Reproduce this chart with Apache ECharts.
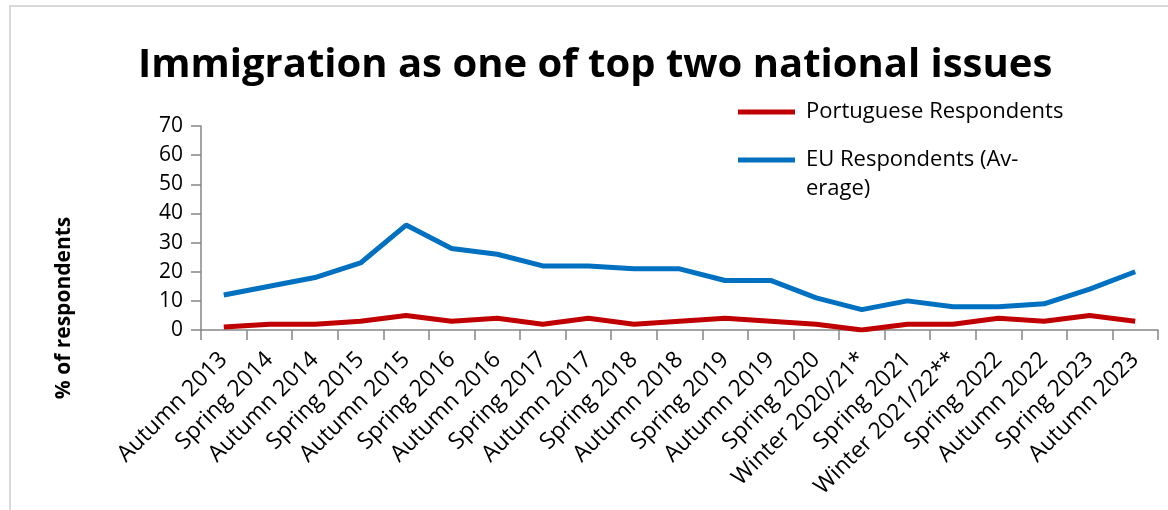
<!DOCTYPE html>
<html>
<head>
<meta charset="utf-8">
<script src="https://cdn.jsdelivr.net/npm/echarts@6/dist/echarts.min.js"></script>
<style>
  html, body { margin: 0; padding: 0; background: #ffffff; }
  #chart { width: 1168px; height: 510px; }
</style>
</head>
<body>
<div id="chart"></div>
<script>
// Survey waves (Eurobarometer-style)
const waves = [
  'Autumn 2013', 'Spring 2014', 'Autumn 2014', 'Spring 2015', 'Autumn 2015',
  'Spring 2016', 'Autumn 2016', 'Spring 2017', 'Autumn 2017', 'Spring 2018',
  'Autumn 2018', 'Spring 2019', 'Autumn 2019', 'Spring 2020', 'Winter 2020/21*',
  'Spring 2021', 'Winter 2021/22**', 'Spring 2022', 'Autumn 2022', 'Spring 2023',
  'Autumn 2023'
];

// Share of respondents naming immigration among the top two national issues (%)
const portugueseRespondents = [1, 2, 2, 3, 5, 3, 4, 2, 4, 2, 3, 4, 3, 2, 0, 2, 2, 4, 3, 5, 3];
const euRespondents = [12, 15, 18, 23, 36, 28, 26, 22, 22, 21, 21, 17, 17, 11, 7, 10, 8, 8, 9, 14, 20];

const seriesNames = ['Portuguese Respondents', 'EU Respondents (Average)'];
// Legend text as wrapped in the legend box; the leading blank line keeps the
// swatch level with the first text line of the wrapped entry.
const legendLabels = ['Portuguese Respondents', '\nEU Respondents (Av-\nerage)'];
const yTicks = { min: 0, max: 70, step: 10 };

const FONT = 'Open Sans';
const AXIS_GREY = '#868686';

const legendBase = {
  orient: 'vertical',
  left: 738,
  padding: 0,
  itemWidth: 57,
  itemHeight: 5,
  icon: 'rect',
  textStyle: {
    fontFamily: FONT,
    fontSize: 22,
    color: '#000000',
    lineHeight: 29,
    padding: [0, 0, 0, 6]
  },
  formatter: function (name) {
    return legendLabels[seriesNames.indexOf(name)];
  }
};

const chart = echarts.init(document.getElementById('chart'), null, { renderer: 'canvas' });

chart.setOption({
  backgroundColor: '#ffffff',
  animation: false,
  title: {
    text: 'Immigration as one of top two national issues',
    left: 133,
    top: 41,
    textStyle: { fontFamily: FONT, fontWeight: 'bold', fontSize: 40, color: '#000000' }
  },
  graphic: [
    {
      type: 'rect',
      shape: { x: 10, y: 6, width: 1400, height: 800 },
      style: { fill: 'none', stroke: '#d9d9d9', lineWidth: 2 },
      silent: true
    },
    {
      type: 'text',
      x: 64,
      y: 308,
      rotation: Math.PI / 2,
      style: {
        text: '% of respondents',
        fontFamily: FONT,
        fontWeight: 'bold',
        fontSize: 21,
        fill: '#000000',
        align: 'center',
        verticalAlign: 'middle'
      }
    }
  ],
  legend: [
    Object.assign({}, legendBase, { top: 97.5, data: [seriesNames[0]] }),
    Object.assign({}, legendBase, { top: 116.5, data: [seriesNames[1]] })
  ],
  grid: {
    left: 201,
    right: 10,
    top: 126,
    bottom: 180,
    containLabel: false
  },
  xAxis: {
    type: 'category',
    data: waves,
    boundaryGap: true,
    axisLine: { lineStyle: { color: AXIS_GREY, width: 1.5 } },
    axisTick: { show: true, length: 10, lineStyle: { color: AXIS_GREY, width: 1.5 } },
    axisLabel: {
      interval: 0,
      rotate: 45,
      margin: 26,
      fontFamily: FONT,
      fontSize: 23,
      color: '#000000'
    },
    splitLine: { show: false }
  },
  yAxis: {
    type: 'value',
    min: yTicks.min,
    max: yTicks.max,
    interval: yTicks.step,
    axisLine: { show: true, lineStyle: { color: AXIS_GREY, width: 1.5 } },
    axisTick: { show: true, length: 10, lineStyle: { color: AXIS_GREY, width: 1.5 } },
    axisLabel: { margin: 18, fontFamily: FONT, fontSize: 21, color: '#000000' },
    splitLine: { show: false }
  },
  series: [
    {
      name: seriesNames[0],
      type: 'line',
      data: portugueseRespondents,
      symbol: 'none',
      color: '#c00000',
      lineStyle: { color: '#c00000', width: 5 }
    },
    {
      name: seriesNames[1],
      type: 'line',
      data: euRespondents,
      symbol: 'none',
      color: '#0070c0',
      lineStyle: { color: '#0070c0', width: 5 }
    }
  ]
});
</script>
</body>
</html>
